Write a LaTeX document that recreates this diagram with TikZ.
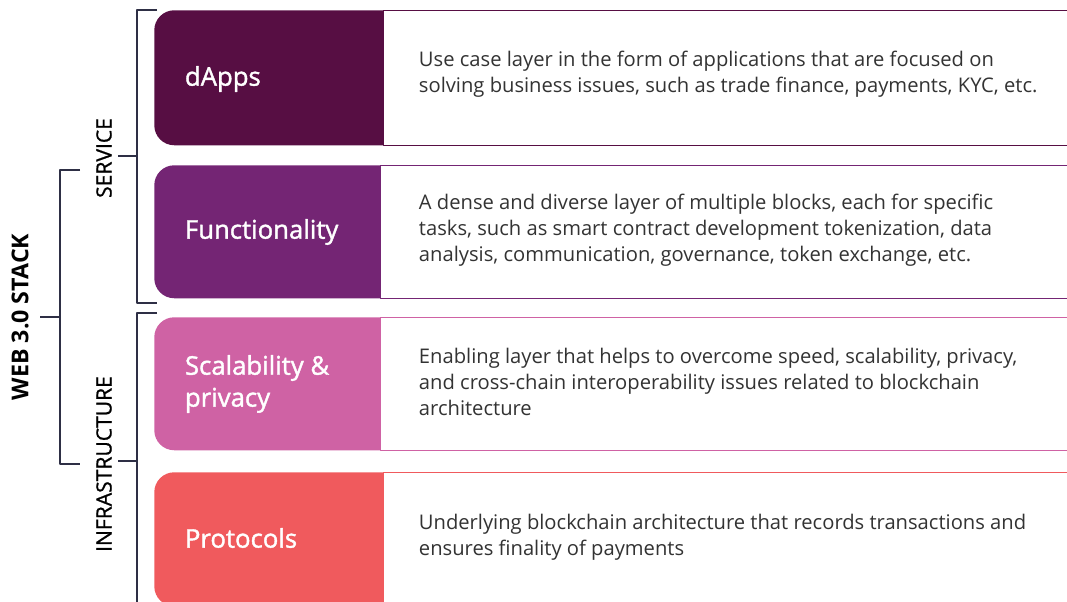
\documentclass[tikz,border=0pt]{standalone}
\usepackage{fontspec}
\setmainfont{Open Sans}
\newfontfamily\headfont{Open Sans}[FakeBold=1.5]
\newfontfamily\groupfont{Open Sans}[FakeBold=0.9]
\usetikzlibrary{calc,positioning}

\definecolor{dappcol}{HTML}{570E43}
\definecolor{funccol}{HTML}{742574}
\definecolor{scalecol}{HTML}{CF62A4}
\definecolor{protocol}{HTML}{F05A5D}
\definecolor{bracecol}{HTML}{2E2F45}
\definecolor{bodycol}{HTML}{333333}

\begin{document}
\begin{tikzpicture}[line cap=round, line join=round,
		layerblock/.style={anchor=north west, rounded corners=0.5cm, minimum width=6.7cm, inner sep=0pt},
		descbox/.style={anchor=north west, fill=white, line width=0.6pt, minimum width=17.5cm, inner sep=0pt},
		headtext/.style={anchor=west, text=white, align=left, font=\headfont\fontsize{18.3}{22.7}\selectfont},
		bodytext/.style={anchor=west, text=bodycol, align=left, font=\fontsize{14.35}{18.4}\selectfont},
		grouptext/.style={rotate=90, text=black, font=\groupfont\fontsize{15}{15}\selectfont},
		brace/.style={draw=bracecol, line width=1pt, line cap=butt}]
		
		\useasboundingbox (0,0) rectangle (26.675,15.05);
		\clip (0,0) rectangle (26.675,15.05);
		
		% --- Layer blocks (coloured part) ---
		\node[layerblock, fill=dappcol, minimum height=3.375cm] (dapps) at (3.85,14.8) {};
		\node[layerblock, fill=funccol, minimum height=3.325cm] (func) at (3.85,10.925) {};
		\node[layerblock, fill=scalecol, minimum height=3.325cm] (scale) at (3.85,7.125) {};
		\node[layerblock, fill=protocol, minimum height=3.35cm] (proto) at (3.85,3.25) {};
		
		% --- Description boxes, open to the right ---
		\node[descbox, draw=dappcol, minimum height=3.375cm] (dappsbox) at (9.575,14.8) {};
		\node[descbox, draw=funccol, minimum height=3.325cm] (funcbox) at (9.5,10.925) {};
		\node[descbox, draw=scalecol, minimum height=3.325cm] (scalebox) at (9.5,7.125) {};
		\node[descbox, draw=protocol, minimum height=3.35cm] (protobox) at (9.575,3.25) {};
		
		% --- Layer names ---
		\node[headtext] (dappsname) at (4.5,13.075) {dApps};
		\node[headtext] (funcname) at (4.5,9.25) {Functionality};
		\node[headtext] (scalename) at (4.5,5.45) {Scalability \&\\privacy};
		\node[headtext] (protoname) at (4.5,1.6) {Protocols};
		
		% --- Layer descriptions ---
		\node[bodytext] (dappsdesc) at (10.35,13.2) {Use case layer in the form of applications that are focused on\\solving business issues, such as trade finance, payments, KYC, etc.};
		\node[bodytext] (funcdesc) at (10.35,9.3) {A dense and diverse layer of multiple blocks, each for specific\\tasks, such as smart contract development tokenization, data\\analysis, communication, governance, token exchange, etc.};
		\node[bodytext] (scaledesc) at (10.35,5.5) {Enabling layer that helps to overcome speed, scalability, privacy,\\and cross-chain interoperability issues related to blockchain\\architecture};
		\node[bodytext] (protodesc) at (10.35,1.625) {Underlying blockchain architecture that records transactions and\\ensures finality of payments};
		
		% --- Group labels ---
		\node[grouptext] (service) at (2.6,11.1) {SERVICE};
		\node[grouptext] (infra) at (2.6,3.45) {INFRASTRUCTURE};
		\node[grouptext, font=\fontsize{16.5}{18}\selectfont\bfseries] (web) at (0.5,7.125) {WEB 3.0 STACK};
		
		% --- Brackets ---
		\coordinate (svtop) at (3.925,14.8);
		\coordinate (svbot) at (3.925,7.475);
		\coordinate (svmid) at (2.95,11.15);
		\draw[brace] (svtop) -- ++(-0.5,0) |- (svbot);
		\draw[brace] (svmid) -- ++(0.475,0);
		
		\coordinate (intop) at (3.925,7.225);
		\coordinate (inmid) at (2.95,3.525);
		\draw[brace] (intop) -- ++(-0.5,0) -- (3.425,-0.1);
		\draw[brace] (inmid) -- ++(0.475,0);
		
		\coordinate (wbtop) at (2.0,10.8);
		\coordinate (wbbot) at (2.0,3.45);
		\coordinate (wbmid) at (1.0,7.125);
		\draw[brace] (wbtop) -- ++(-0.5,0) |- (wbbot);
		\draw[brace] (wbmid) -- ++(0.5,0);
		
	\end{tikzpicture}
\end{document}
